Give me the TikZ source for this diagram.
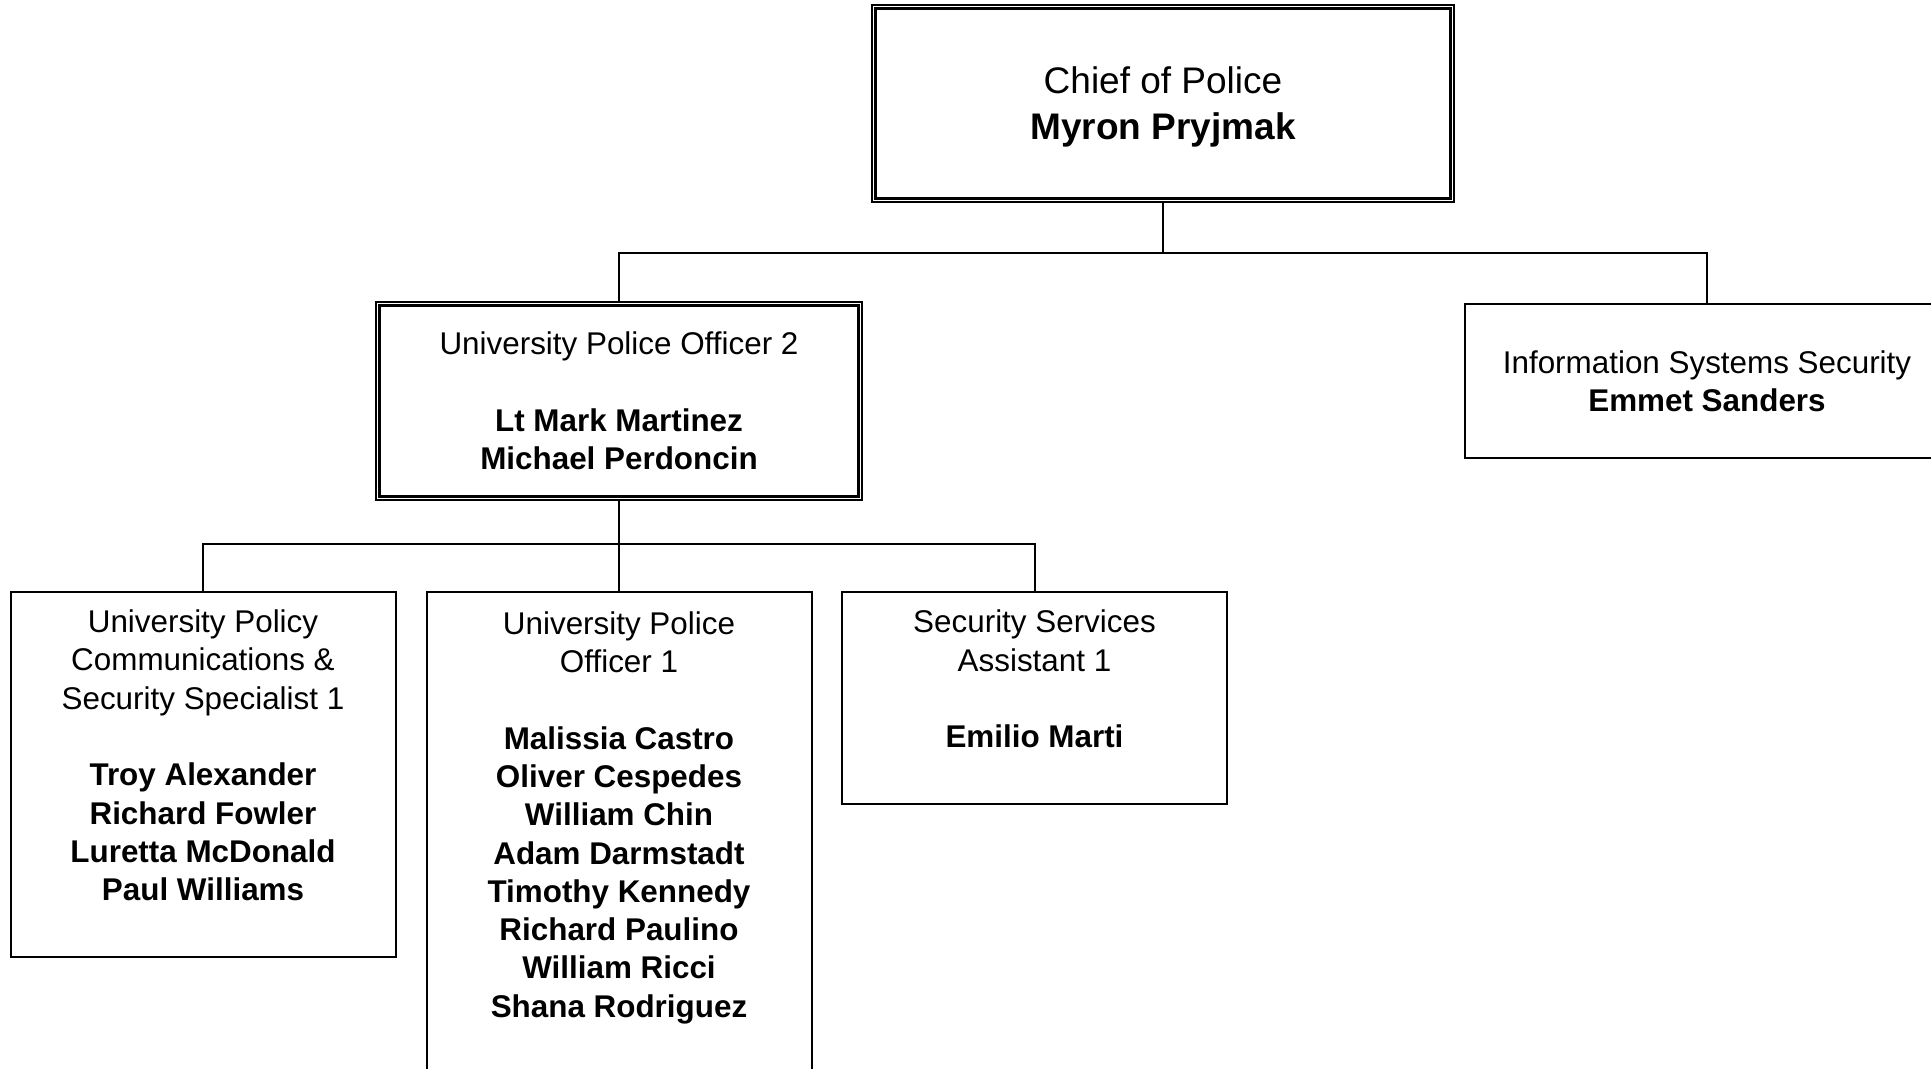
\documentclass[tikz,border=0pt]{standalone}
\usepackage{fontspec}
\setmainfont{Liberation Sans}
\usetikzlibrary{positioning}

\begin{document}
\begin{tikzpicture}[x=0.5pt,y=-0.5pt,
   font=\fontsize{15.7pt}{19.15pt}\selectfont,
   f/.style={draw,line width=1pt,align=center,inner sep=0pt},
   link/.style={line width=1pt}]
  \useasboundingbox (0,0) rectangle (1931,1069);
  % top row
  \node[f,minimum width=291pt,minimum height=98.5pt,
        font=\fontsize{18.5pt}{23pt}\selectfont] (chief) at (1163,103.5)
       {Chief of Police\\\smash{\textbf{Myron Pryjmak}}};
  \draw[line width=1.4pt] ([shift={(4.5,4.5)}]chief.north west)
       rectangle ([shift={(-4.5,-4.5)}]chief.south east);
  \node[f,minimum width=243pt,minimum height=99pt] (upo2) at (619,401)
       {University Police Officer 2\\[19.15pt]\textbf{Lt Mark Martinez}\\\textbf{Michael Perdoncin}};
  \draw[line width=1.4pt] ([shift={(4.5,4.5)}]upo2.north west)
       rectangle ([shift={(-4.5,-4.5)}]upo2.south east);
  \node[f,minimum width=242pt,minimum height=77pt] (iss) at (1707,381)
       {Information Systems Security\\\textbf{Emmet Sanders}};
  % bottom row
  \node[f,minimum width=192.5pt,minimum height=182.5pt,anchor=north] (upcss) at (203,591)
       {University Policy\\Communications \&\\Security Specialist 1\\[19.15pt]
        \textbf{Troy Alexander}\\\textbf{Richard Fowler}\\\textbf{Luretta McDonald}\\
        \textbf{Paul Williams}\\\mbox{}};
  \node[f,minimum width=192.5pt,minimum height=241.5pt,
        right=14.5pt of upcss.north east,anchor=north west] (upo1)
       {University Police\\Officer 1\\[19.15pt]
        \textbf{Malissia Castro}\\\textbf{Oliver Cespedes}\\\textbf{William Chin}\\
        \textbf{Adam Darmstadt}\\\textbf{Timothy Kennedy}\\\textbf{Richard Paulino}\\
        \textbf{William Ricci}\\\textbf{Shana Rodriguez}\\\mbox{}};
  \node[f,minimum width=192.5pt,minimum height=106pt,
        right=14.25pt of upo1.north east,anchor=north west] (ssa)
       {Security Services\\Assistant 1\\[19.15pt]\textbf{Emilio Marti}\\\mbox{}};
  % links
  \draw[link] (chief.south) -- ++(0,50) -| (upo2.north);
  \draw[link] (chief.south) -- ++(0,50) -| (iss.north);
  \draw[link] (upo2.south) -- ++(0,42.5) -| (upcss.north);
  \draw[link] (upo2.south) -- (upo2.south |- upo1.north);
  \draw[link] (upo2.south) -- ++(0,42.5) -| (ssa.north);
\end{tikzpicture}
\end{document}
